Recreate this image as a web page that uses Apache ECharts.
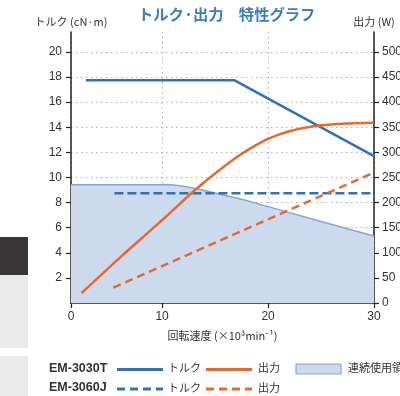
<!DOCTYPE html>
<html><head><meta charset="utf-8">
<script src="https://cdn.jsdelivr.net/npm/echarts@6/dist/echarts.min.js"></script>
<style>html,body{margin:0;padding:0;background:#fff}#c{width:400px;height:396px}</style>
</head><body><div id="c"></div>
<script>
// x axis: the reference places its "0" label at the left edge; scale from 10..30 is uniform
const xMin = 1.4, xMax = 30;
const xTicks = [1.4, 10, 20, 30];
const torqueTicks = [2, 4, 6, 8, 10, 12, 14, 16, 18, 20];
const powerTicks = [0, 50, 100, 150, 200, 250, 300, 350, 400, 450, 500];

// EM-3030T
const torqueT = [[2.8, 17.75], [16.8, 17.75], [30, 11.7]];
const powerT = [[2.4, 20], [6, 90], [10, 165], [13, 223], [15, 258], [17, 290], [18.5, 310], [20, 327], [22, 342], [24.3, 352], [27, 357], [30, 359]];
// EM-3060J
const torqueJ = [[5.5, 8.75], [30, 8.75]];
const powerJ = [[5.4, 30.5], [30, 260]];
// continuous operation region
const region = [[1.4, 9.43], [10.9, 9.43], [12, 9.3], [13.4, 9.08], [17.8, 8.2], [20, 7.68], [25, 6.5], [30, 5.34]];

const BLUE = '#2f72b8', ORANGE = '#e8692d';
const FONT = "'Liberation Sans', 'Noto Sans CJK JP', sans-serif";
const JP = "'Noto Sans CJK JP', 'Liberation Sans', sans-serif";

const chart = echarts.init(document.getElementById('c'), null, {renderer: 'canvas'});
const axisLine = {show: true, lineStyle: {color: '#222', width: 1.5}};
const gridLine = {show: true, lineStyle: {color: '#b0b0b0', type: [1.5, 3.5], width: 1}};

function legendRow(y, label, dashed) {
  const els = [];
  els.push({type: 'text', left: 49, top: y - 7.5, style: {text: label, font: "bold 12.5px " + FONT, fill: '#333'}});
  els.push({type: 'line', shape: {x1: 117, y1: y, x2: 163, y2: y}, style: {stroke: BLUE, lineWidth: 3, lineDash: dashed ? [8, 5] : null}});
  els.push({type: 'text', left: 168, top: y - 7, style: {text: 'トルク', font: "11px " + JP, fill: '#333'}});
  els.push({type: 'line', shape: {x1: 206, y1: y, x2: 252, y2: y}, style: {stroke: ORANGE, lineWidth: 3, lineDash: dashed ? [8, 5] : null}});
  els.push({type: 'text', left: 258, top: y - 7, style: {text: '出力', font: "11px " + JP, fill: '#333'}});
  return els;
}

const graphics = [
  {type: 'rect', shape: {x: 0, y: 237, width: 28, height: 38}, style: {fill: '#3a3536'}, z: -1},
  {type: 'rect', shape: {x: 0, y: 275, width: 28, height: 73}, style: {fill: '#ebebeb'}, z: -1},
  {type: 'rect', shape: {x: 0, y: 356, width: 28, height: 40}, style: {fill: '#ebebeb'}, z: -1},
  ...legendRow(369.5, 'EM-3030T', false),
  ...legendRow(389, 'EM-3060J', true),
  {type: 'rect', shape: {x: 296, y: 364, width: 45, height: 10}, style: {fill: '#cdd9ed', stroke: '#82a8d9', lineWidth: 1.2}},
  {type: 'text', left: 348, top: 362.5, style: {text: '連続使用領域', font: "11px " + JP, fill: '#333'}}
];

chart.setOption({
  animation: false,
  textStyle: {fontFamily: FONT},
  title: {
    text: 'トルク·出力　特性グラフ', left: 138, top: 7, padding: 0,
    textStyle: {color: '#3b7dc0', fontSize: 15.3, fontWeight: 'bold', fontFamily: JP}
  },
  grid: {left: 71, right: 26, top: 32, bottom: 93, containLabel: false, outerBoundsMode: 'none'},
  xAxis: {
    type: 'value', min: xMin, max: xMax,
    name: '回転速度 (×10³min⁻¹)', nameLocation: 'middle', nameGap: 27,
    nameTextStyle: {color: '#333', fontSize: 11, fontFamily: JP},
    axisLine: axisLine,
    axisTick: {show: true, length: 5, inside: false, customValues: xTicks, lineStyle: {color: '#222', width: 1.2}},
    axisLabel: {customValues: xTicks, color: '#333', fontSize: 12, margin: 8,
      formatter: v => (Math.abs(v - xMin) < 1e-6 ? '0' : String(v))},
    splitLine: gridLine
  },
  yAxis: [
    {
      type: 'value', min: 0, max: 21.59, position: 'left',
      name: 'トルク (cN·m)', nameLocation: 'end', nameGap: 5,
      nameTextStyle: {color: '#333', fontSize: 11, fontFamily: JP, align: 'center'},
      axisLine: axisLine,
      axisTick: {show: true, length: 5, customValues: torqueTicks, lineStyle: {color: '#222', width: 1.2}},
      axisLabel: {customValues: torqueTicks, color: '#333', fontSize: 12, margin: 9},
      splitLine: gridLine
    },
    {
      type: 'value', min: 0, max: 539.8, position: 'right',
      name: '出力 (W)', nameLocation: 'end', nameGap: 5,
      nameTextStyle: {color: '#333', fontSize: 11, fontFamily: JP, align: 'center'},
      axisLine: axisLine,
      axisTick: {show: true, length: 5, customValues: powerTicks, lineStyle: {color: '#222', width: 1.2}},
      axisLabel: {customValues: powerTicks, color: '#333', fontSize: 12, margin: 8},
      splitLine: {show: false}
    }
  ],
  series: [
    {name: '連続使用領域', type: 'line', yAxisIndex: 0, data: region, symbol: 'none', z: 1,
      lineStyle: {color: '#82a8d9', width: 1.5}, areaStyle: {color: '#cdd9ed', opacity: 1}},
    {name: 'EM-3030T トルク', type: 'line', yAxisIndex: 0, data: torqueT, symbol: 'none', z: 3,
      lineStyle: {color: BLUE, width: 2.5}},
    {name: 'EM-3060J トルク', type: 'line', yAxisIndex: 0, data: torqueJ, symbol: 'none', z: 3,
      lineStyle: {color: BLUE, width: 2.5, type: [9, 4]}},
    {name: 'EM-3030T 出力', type: 'line', yAxisIndex: 1, data: powerT, symbol: 'none', smooth: 0.3, z: 4,
      lineStyle: {color: ORANGE, width: 2.5}},
    {name: 'EM-3060J 出力', type: 'line', yAxisIndex: 1, data: powerJ, symbol: 'none', z: 4,
      lineStyle: {color: ORANGE, width: 2.5, type: [8, 5]}}
  ],
  graphic: graphics
});
</script></body></html>
